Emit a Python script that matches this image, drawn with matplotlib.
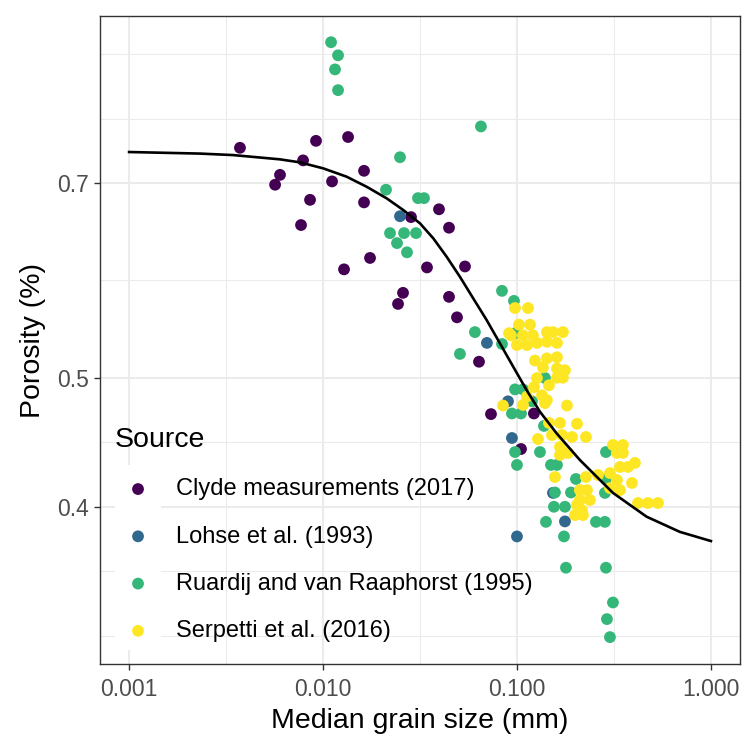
import numpy as np
import matplotlib.pyplot as plt
from matplotlib.patches import Rectangle

plt.rcParams['font.family'] = ['Liberation Sans', 'DejaVu Sans']

# median grain size (mm) and porosity
clyde_size = [0.00373, 0.0092, 0.01346, 0.00789, 0.0060, 0.00566, 0.01113, 0.01627,
              0.00857, 0.01627, 0.0077, 0.01747, 0.01283, 0.02585, 0.02436, 0.02842,
              0.03962, 0.04463, 0.03436, 0.05395, 0.04463, 0.04906, 0.0637, 0.07345,
              0.1223, 0.1049]
clyde_por = [0.744, 0.753, 0.758, 0.728, 0.710, 0.698, 0.702, 0.715,
             0.680, 0.677, 0.651, 0.615, 0.603, 0.579, 0.568, 0.660,
             0.669, 0.648, 0.605, 0.606, 0.575, 0.555, 0.514, 0.4695,
             0.470, 0.442]

lohse_size = [0.02494, 0.0700, 0.0899, 0.0942, 0.1533, 0.1768, 0.100]
lohse_por = [0.661, 0.531, 0.480, 0.4505, 0.4097, 0.390, 0.380]

ruardij_size = [0.0110, 0.01195, 0.01153, 0.01195, 0.02494, 0.0652, 0.02112, 0.03088,
                0.03316, 0.02215, 0.02616, 0.03016, 0.02407, 0.0271, 0.0837, 0.0965,
                0.0607, 0.0977, 0.0837, 0.0508, 0.1394, 0.0977, 0.1074, 0.1195,
                0.0942, 0.1049, 0.1378, 0.0977, 0.1314, 0.100, 0.1497, 0.1608,
                0.2876, 0.2014, 0.2876, 0.157, 0.1898, 0.2841, 0.1551, 0.1768,
                0.1411, 0.2554, 0.2841, 0.1747, 0.1789, 0.2876, 0.3125, 0.291,
                0.3016]
ruardij_por = [0.893, 0.873, 0.852, 0.822, 0.732, 0.772, 0.692, 0.682,
               0.682, 0.642, 0.642, 0.642, 0.631, 0.621, 0.581, 0.571,
               0.541, 0.540, 0.530, 0.521, 0.4997, 0.490, 0.490, 0.480,
               0.470, 0.470, 0.460, 0.4397, 0.4397, 0.430, 0.430, 0.430,
               0.4397, 0.4197, 0.4197, 0.410, 0.410, 0.4097, 0.400, 0.400,
               0.3897, 0.3897, 0.3897, 0.380, 0.360, 0.360, 0.339, 0.3294,
               0.3193]

serpetti_size = [0.0977, 0.114, 0.1024, 0.1167, 0.0931, 0.1074, 0.1209, 0.1427,
                 0.1533, 0.1726, 0.100, 0.1126, 0.1268, 0.1427, 0.1608, 0.1238,
                 0.1427, 0.1608, 0.1361, 0.1608, 0.1768, 0.1268, 0.1608, 0.1726,
                 0.1345, 0.1427, 0.1126, 0.1074, 0.0847, 0.1394, 0.181, 0.1666,
                 0.2039, 0.1462, 0.1283, 0.1515, 0.1706, 0.1921, 0.2268, 0.1666,
                 0.1832, 0.1666, 0.157, 0.2268, 0.211, 0.2295, 0.211, 0.2163,
                 0.1991, 0.2189, 0.2039, 0.2615, 0.3016, 0.3125, 0.3519, 0.3278,
                 0.3519, 0.3396, 0.3735, 0.4057, 0.3278, 0.3916, 0.3396, 0.3016,
                 0.4205, 0.4735, 0.5332, 0.2378, 0.1223, 0.1462, 0.091]
serpetti_por = [0.564, 0.564, 0.548, 0.548, 0.538, 0.538, 0.538, 0.541,
                0.541, 0.541, 0.529, 0.529, 0.531, 0.532, 0.531, 0.515,
                0.517, 0.518, 0.509, 0.508, 0.5065, 0.4997, 0.500, 0.500,
                0.485, 0.481, 0.484, 0.477, 0.4765, 0.4785, 0.4765, 0.4624,
                0.4617, 0.4624, 0.4497, 0.4528, 0.4528, 0.4513, 0.4513, 0.4436,
                0.439, 0.4375, 0.4211, 0.4211, 0.4117, 0.4117, 0.4047, 0.3977,
                0.3943, 0.3943, 0.4012, 0.4226, 0.424, 0.4451, 0.4451, 0.439,
                0.439, 0.4285, 0.4285, 0.4315, 0.4189, 0.4168, 0.4117, 0.4131,
                0.4026, 0.4026, 0.4026, 0.4047, 0.4919, 0.4935, 0.540]

# fitted curve
fit_size = [0.001, 0.002323, 0.00344, 0.0060, 0.00761, 0.01003, 0.01325, 0.0168,
            0.0213, 0.02594, 0.03162, 0.03703, 0.04342, 0.0508, 0.05953, 0.06981,
            0.08174, 0.0957, 0.1122, 0.1314, 0.1602, 0.211, 0.3126, 0.466,
            0.692, 1.0]
fit_por = [0.7386, 0.7366, 0.7347, 0.7293, 0.7255, 0.718, 0.7077, 0.6955,
           0.6817, 0.6681, 0.6529, 0.6362, 0.6162, 0.5953, 0.5734, 0.5523,
           0.5305, 0.5095, 0.4893, 0.4714, 0.4541, 0.4337, 0.4097, 0.3932,
           0.383, 0.377]

sources = ['Clyde measurements (2017)', 'Lohse et al. (1993)',
           'Ruardij and van Raaphorst (1995)', 'Serpetti et al. (2016)']
colours = ['#440154', '#31688E', '#35B779', '#FDE725']
series = [(clyde_size, clyde_por), (lohse_size, lohse_por),
          (ruardij_size, ruardij_por), (serpetti_size, serpetti_por)]

fig = plt.figure(figsize=(7.43, 7.36), dpi=100)
ax = fig.add_axes([100 / 743, 1 - 664 / 736, 640 / 743, 648 / 736])
ax.set_xscale('log')
ax.set_yscale('log')
ax.set_xlim(10 ** -3.15, 10 ** 0.15)
ax.set_ylim(0.3048, 0.9344)

ax.set_xticks([0.001, 0.01, 0.1, 1.0])
ax.set_xticklabels(['0.001', '0.010', '0.100', '1.000'])
ax.set_xticks([10 ** -2.5, 10 ** -1.5, 10 ** -0.5], minor=True)
ax.set_yticks([0.4, 0.5, 0.7])
ax.set_yticklabels(['0.4', '0.5', '0.7'])
ax.set_yticks([0.32, 0.3578, 0.4472, 0.5916, 0.7826, 0.875], minor=True)
ax.yaxis.set_minor_formatter(plt.NullFormatter())
ax.xaxis.set_minor_formatter(plt.NullFormatter())

ax.set_axisbelow(True)
ax.grid(which='major', color='#EBEBEB', linewidth=1.5)
ax.grid(which='minor', color='#EBEBEB', linewidth=0.75)
ax.tick_params(which='major', length=4, width=1.0, color='#333333',
               labelsize=16.5, labelcolor='#4D4D4D')
ax.tick_params(axis='x', which='major', pad=6)
ax.tick_params(axis='y', which='major', pad=4)
ax.tick_params(which='minor', length=0)
for sp in ax.spines.values():
    sp.set_color('#333333')
    sp.set_linewidth(1.0)

# white legend key backgrounds (like ggplot's legend.key)
ax.add_patch(Rectangle((15 / 640, 14 / 648), 46 / 640, 185 / 648,
                       transform=ax.transAxes, facecolor='white',
                       edgecolor='none', zorder=1))

for (xs, ys), col, name in zip(series, colours, sources):
    ax.scatter(xs, ys, s=72, color=col, edgecolors='none', label=name, zorder=2)

ax.plot(fit_size, fit_por, color='black', linewidth=1.9, zorder=3)

ax.set_xlabel('Median grain size (mm)', fontsize=20.5, labelpad=5)
ax.set_ylabel('Porosity (%)', fontsize=20.5, labelpad=8)

leg = ax.legend(loc='upper left', bbox_to_anchor=(15 / 640, 237 / 648),
                frameon=False, title='Source', title_fontsize=20.5,
                fontsize=17, scatterpoints=1, borderpad=0, borderaxespad=0,
                handlelength=1.95, handletextpad=0.64, labelspacing=1.07,
                alignment='left')

plt.savefig('out.png', dpi=100)
